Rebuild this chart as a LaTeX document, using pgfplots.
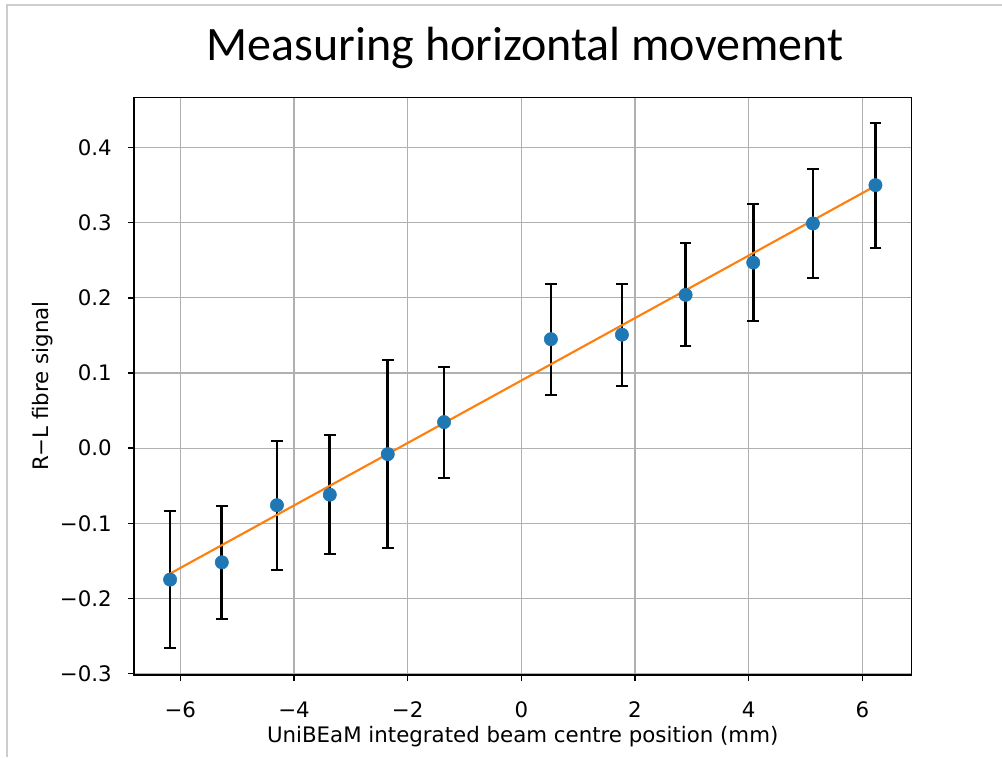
\documentclass[border=0pt]{standalone}
\usepackage{fontspec}
\setmainfont{DejaVu Sans}
\newfontfamily\titlefont{Carlito}
\usepackage{pgfplots}
\pgfplotsset{compat=1.18}
\definecolor{mplblue}{RGB}{31,119,180}
\definecolor{mplorange}{RGB}{255,127,14}
\definecolor{mplgrid}{RGB}{176,176,176}
\definecolor{framegray}{RGB}{205,205,205}
\begin{document}
\begin{tikzpicture}[x=1pt,y=1pt]
\path[use as bounding box] (0,0) rectangle (751.5,567.75);
\draw[framegray, line width=1.5pt] (5.25,0) -- (5.25,564) -- (751.5,564);
\node[anchor=base, font=\titlefont\fontsize{36}{42}\selectfont] at (393.75,522) {Measuring horizontal movement};
\begin{axis}[
  at={(100.5pt,61.5pt)}, anchor=south west,
  scale only axis, width=583pt, height=433.3pt,
  xmin=-6.815, xmax=6.862, ymin=-0.302, ymax=0.467,
  xtick={-6,-4,-2,0,2,4,6},
  xticklabels={−6,−4,−2,0,2,4,6},
  ytick={-0.3,-0.2,-0.1,0,0.1,0.2,0.3,0.4},
  yticklabels={−0.3,−0.2,−0.1,0.0,0.1,0.2,0.3,0.4},
  xtick pos=lower, ytick pos=left,
  tick align=outside, major tick length=4.5pt,
  tick style={black, line width=1.1pt},
  axis line style={black, line width=1.1pt},
  grid=major, major grid style={mplgrid, line width=0.8pt},
  ticklabel style={font=\fontsize{16}{19}\selectfont, inner sep=0pt},
  xticklabel style={anchor=base, yshift=-27pt},
  yticklabel style={anchor=east, xshift=-12pt},
  xlabel={UniBEaM integrated beam centre position (mm)},
  ylabel={R−L fibre signal},
  label style={font=\fontsize{16}{19}\selectfont, inner sep=0pt},
  xlabel style={at={(axis description cs:0.5,0)}, anchor=base, yshift=-50.25pt},
  ylabel style={at={(axis description cs:-0.117,0.5)}, anchor=center},
  clip=false,
]
\addplot[
  only marks, mark=*, mark size=5pt,
  mark options={fill=mplblue, draw=mplblue},
  error bars/.cd, y dir=both, y explicit,
  error bar style={black, line width=2pt},
  error mark options={rotate=90, mark size=4.4pt, line width=1.5pt, black},
] table[x=x, y=y, y error=e] {
x y e
-6.18 -0.175 0.091
-5.27 -0.152 0.075
-4.30 -0.076 0.086
-3.37 -0.062 0.079
-2.35 -0.008 0.125
-1.36 0.0346 0.074
0.52 0.145 0.074
1.77 0.151 0.068
2.89 0.204 0.0686
4.08 0.247 0.078
5.13 0.299 0.072
6.23 0.350 0.083
};
\addplot[mplorange, line width=1.6pt] coordinates {(-6.18,-0.167) (6.23,0.349)};
\end{axis}
\end{tikzpicture}
\end{document}
